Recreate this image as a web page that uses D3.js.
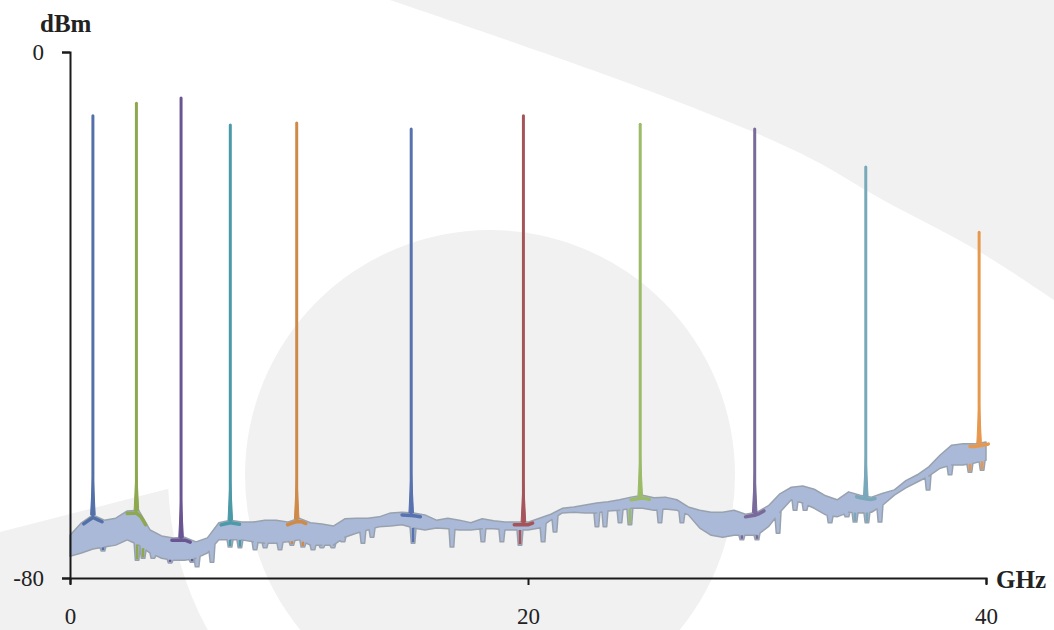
<!DOCTYPE html>
<html>
<head>
<meta charset="utf-8">
<script src="https://cdn.jsdelivr.net/npm/d3@7/dist/d3.min.js"></script>
<style>
body { margin: 0; background: #fff; }
text { font-family: "Liberation Serif", "Times New Roman", serif; fill: #222; }
</style>
</head>
<body>
<script>
// Noise floor, sampled every 0.5 GHz (upper and lower edge of the trace band, dBm)
const noiseFreq = [0, 0.5, 1, 1.5, 2, 2.5, 3, 3.5, 4, 4.5, 5, 5.5, 6, 6.5, 7, 7.5, 8, 8.5, 9, 9.5,
    10, 10.5, 11, 11.5, 12, 12.5, 13, 13.5, 14, 14.5, 15, 15.5, 16, 16.5, 17, 17.5, 18, 18.5, 19, 19.5,
    20, 20.5, 21, 21.5, 22, 22.5, 23, 23.5, 24, 24.5, 25, 25.5, 26, 26.5, 27, 27.5, 28, 28.5, 29, 29.5,
    30, 30.5, 31, 31.5, 32, 32.5, 33, 33.5, 34, 34.5, 35, 35.5, 36, 36.5, 37, 37.5, 38, 38.5, 39, 39.5, 40];
const noiseTop = [-73.5, -71.6, -70.4, -71.2, -70.9, -69.8, -69.7, -72.7, -73.6, -73.9,
    -73.8, -74.5, -73.9, -71.6, -71.2, -71.5, -71.5, -71.2, -71.2, -71.5,
    -70.9, -71.6, -71.8, -72.1, -71.0, -70.9, -70.9, -70.7, -70.1, -70.0,
    -70.1, -70.4, -71.2, -70.9, -71.2, -71.6, -71.0, -71.3, -71.5, -71.5,
    -71.5, -70.9, -70.3, -69.4, -69.2, -68.9, -68.6, -68.4, -68.1, -67.7,
    -67.4, -67.8, -67.7, -68.1, -69.2, -69.7, -70.0, -70.0, -69.7, -70.3,
    -70.0, -69.0, -67.2, -66.2, -66.0, -66.5, -67.5, -68.1, -66.9, -67.4,
    -67.7, -67.1, -66.6, -65.2, -64.3, -63.1, -61.3, -59.8, -59.6, -59.6, -59.3];
const noiseBottom = [-76.7, -76.2, -75.6, -75.3, -75.0, -74.2, -75.0, -76.2, -77.0, -77.3,
    -77.3, -77.0, -76.2, -74.2, -74.2, -74.2, -74.5, -74.7, -74.7, -74.5,
    -74.2, -75.0, -75.0, -75.0, -73.8, -73.2, -72.7, -72.2, -72.1, -71.9,
    -72.4, -72.7, -72.4, -72.5, -72.7, -72.7, -72.5, -72.5, -72.7, -72.7,
    -72.7, -72.4, -71.2, -70.1, -70.0, -70.1, -70.1, -69.8, -69.7, -69.4,
    -69.4, -69.7, -69.5, -69.7, -70.4, -72.4, -73.5, -73.8, -73.5, -73.5,
    -73.5, -72.2, -70.0, -68.1, -68.6, -69.4, -70.4, -70.7, -70.0, -70.1,
    -70.0, -68.9, -67.4, -66.3, -65.4, -64.5, -63.3, -62.8, -62.8, -62.5, -62.1];

// Narrow downward dips in the noise floor
const dipFreq = [1.44, 2.93, 3.19, 3.62, 4.37, 5.33, 5.55, 6.2, 6.99, 7.42, 8.08, 8.52, 9.17, 9.69,
    10.17, 10.61, 11.0, 11.48, 11.92, 12.79, 13.19, 14.98, 16.68, 18.03, 18.86, 19.65, 20.66, 21.18,
    23.01, 23.36, 24.02, 24.45, 25.76, 26.72, 29.34, 30.0, 30.92, 31.66, 32.1, 33.19, 33.93, 34.28,
    34.8, 35.37, 37.47, 38.43, 39.3, 39.83];
const dipLevel = [-75.9, -77.3, -77.0, -77.0, -77.7, -77.6, -78.3, -77.6, -75.3, -75.4, -75.7, -75.4, -75.7, -75.0,
    -75.3, -75.7, -75.4, -75.4, -74.5, -74.7, -73.8, -74.7, -75.3, -74.5, -74.5, -75.0, -74.5, -73.0,
    -72.2, -72.2, -71.6, -71.9, -71.6, -71.6, -74.2, -74.2, -73.2, -69.7, -69.7, -71.6, -70.7, -71.5,
    -71.6, -71.5, -66.6, -64.3, -63.9, -63.6];

// Carrier peaks
const peakFreq = [1.0, 2.9, 4.85, 7.0, 9.9, 14.9, 19.8, 24.9, 29.9, 34.75, 39.7];
const peakLevel = [-9.7, -7.8, -7.0, -11.1, -10.8, -11.7, -9.7, -11.0, -11.7, -17.5, -27.4];
const peakColor = ["#5470a8", "#8ea84f", "#6a5593", "#4b9aa8", "#d08a48", "#5872b0",
    "#a5555a", "#9bbb68", "#7a6a9c", "#78a8ba", "#e8984e"];

const xTicks = [0, 20, 40];
const yTicks = [0, -80];

const margin = { top: 52, right: 68, bottom: 52, left: 70 },
    width = 1054 - margin.left - margin.right,
    height = 630 - margin.top - margin.bottom;

const root = d3.select("body")
    .append("svg")
    .attr("width", 1054)
    .attr("height", 630)
    .style("display", "block");

// Background decoration
const bg = root.append("g").attr("fill", "#f1f1f1");
bg.append("path")
    .attr("d", d3.line().curve(d3.curveCatmullRom)([[390, 0], [647, 90], [800, 153], [883, 200], [980, 252], [1054, 300]])
        + "L1054,0Z");
bg.append("circle").attr("cx", 490).attr("cy", 475).attr("r", 245);
const defs = root.append("defs");
const mask = defs.append("mask").attr("id", "ring");
mask.append("rect").attr("width", 1054).attr("height", 630).attr("fill", "#fff");
mask.append("circle").attr("cx", 490).attr("cy", 475).attr("r", 322).attr("fill", "#000");
bg.append("path")
    .attr("d", "M0,532L600,378L600,630L0,630Z")
    .attr("mask", "url(#ring)");

const svg = root.append("g")
    .attr("transform", `translate(${margin.left},${margin.top})`);

const x = d3.scaleLinear().domain([0, 40]).range([0, width]);
const y = d3.scaleLinear().domain([-80, 0]).range([height, 0]);

// linear lookup along a noise edge
function edgeAt(arr, f) {
    const i = Math.min(noiseFreq.length - 2, Math.max(0, d3.bisectRight(noiseFreq, f) - 1));
    const t = (f - noiseFreq[i]) / (noiseFreq[i + 1] - noiseFreq[i]);
    return arr[i] + t * (arr[i + 1] - arr[i]);
}

// Band outline: top edge left->right, bottom edge (with dip notches) right->left
const topEdge = noiseFreq.map((f, i) => [f, noiseTop[i]]);
const bottomEdge = [];
const w = 0.13;
noiseFreq.forEach((f, i) => {
    bottomEdge.push([f, noiseBottom[i]]);
    dipFreq.forEach((d, j) => {
        if (d >= f && (i === noiseFreq.length - 1 || d < noiseFreq[i + 1])) {
            const lv = Math.min(dipLevel[j], edgeAt(noiseBottom, d));
            bottomEdge.push([d - w, edgeAt(noiseBottom, d - w)], [d - w * 0.6, lv], [d + w * 0.6, lv], [d + w, edgeAt(noiseBottom, d + w)]);
        }
    });
});
const band = topEdge.concat(bottomEdge.reverse());

const line = d3.line().x(d => x(d[0])).y(d => y(d[1]));
const closed = d3.line().x(d => x(d[0])).y(d => y(d[1])).curve(d3.curveLinearClosed);

svg.append("path")
    .attr("d", closed(band))
    .attr("fill", "#aab9d8")
    .attr("stroke", "#98a2ae")
    .attr("stroke-width", 1.5)
    .attr("stroke-linejoin", "round");

// Coloured bits of each carrier trace near its base
peakFreq.forEach((f, i) => {
    const seg = [f - 0.4, f - 0.2, f, f + 0.2, f + 0.4].map(v => [v, edgeAt(noiseTop, v) - 0.4]);
    svg.append("path")
        .attr("d", line(seg))
        .attr("fill", "none")
        .attr("stroke", peakColor[i])
        .attr("stroke-width", 3.5)
        .attr("stroke-linejoin", "round")
        .attr("stroke-linecap", "round");
    dipFreq.forEach((d, j) => {
        if (Math.abs(d - f) < 0.6) {
            svg.append("line")
                .attr("x1", x(d)).attr("x2", x(d))
                .attr("y1", y(edgeAt(noiseBottom, d))).attr("y2", y(dipLevel[j]) - 1)
                .attr("stroke", peakColor[i])
                .attr("stroke-width", 2.5);
        }
    });
});

// Peaks
const peaks = svg.append("g");
peakFreq.forEach((f, i) => {
    const base = edgeAt(noiseTop, f);
    peaks.append("path")
        .attr("d", closed([[f - 0.1, base], [f, base + 7], [f + 0.1, base]]))
        .attr("fill", peakColor[i])
        .attr("stroke", peakColor[i])
        .attr("stroke-width", 1);
    peaks.append("line")
        .attr("x1", x(f)).attr("x2", x(f))
        .attr("y1", y(base)).attr("y2", y(peakLevel[i]))
        .attr("stroke", peakColor[i])
        .attr("stroke-width", 3)
        .attr("stroke-linecap", "round");
});

// Axes
const xAxis = svg.append("g")
    .attr("transform", `translate(0,${height})`)
    .call(d3.axisBottom(x).tickValues(xTicks).tickSize(7).tickSizeOuter(6).tickPadding(23).tickFormat(String));
const yAxis = svg.append("g")
    .call(d3.axisLeft(y).tickValues(yTicks).tickSize(8).tickSizeOuter(8).tickPadding(18).tickFormat(String));

[xAxis, yAxis].forEach(a => {
    a.selectAll("path, line").attr("stroke", "#1a1a1a").attr("stroke-width", 2);
    a.selectAll("text").style("font-family", "Liberation Serif, serif").style("font-size", "23px").attr("fill", "#222");
});

// Axis titles
root.append("text")
    .attr("x", 40).attr("y", 32)
    .style("font-size", "25px").style("font-weight", "bold")
    .text("dBm");
root.append("text")
    .attr("x", 996).attr("y", 588)
    .style("font-size", "25px").style("font-weight", "bold")
    .text("GHz");
</script>
</body>
</html>
